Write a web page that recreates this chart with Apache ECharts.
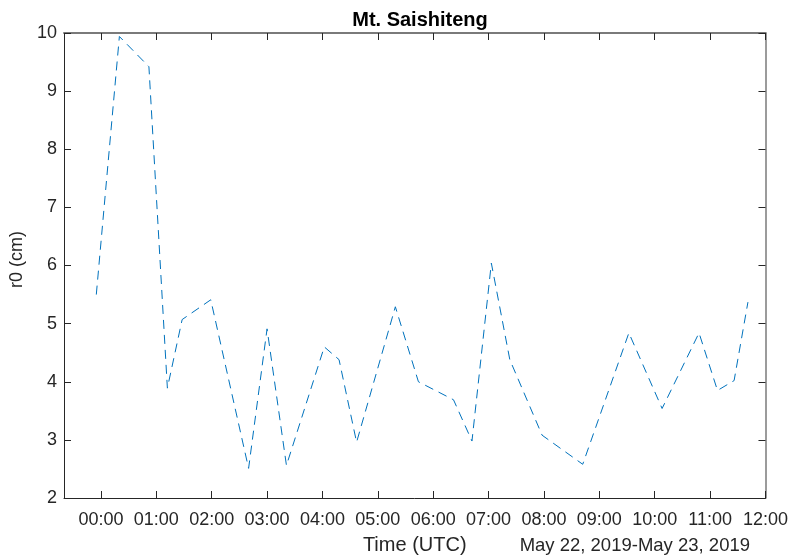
<!DOCTYPE html>
<html>
<head>
<meta charset="utf-8">
<script src="https://cdn.jsdelivr.net/npm/echarts@6/dist/echarts.min.js"></script>
<style>
html,body{margin:0;padding:0;background:#fff;}
#chart{width:791px;height:560px;}
</style>
</head>
<body>
<div id="chart"></div>
<script>
// Time in minutes after 00:00 UTC, May 22 2019
const timeMinutes = [-5, 20, 52, 72, 88, 119, 160, 180, 201, 242, 258, 277, 319, 344, 382, 402, 423, 443, 478, 522, 572, 608, 648, 668, 686, 701];
const r0Values = [5.50, 9.94, 9.42, 3.89, 5.07, 5.41, 2.51, 4.91, 2.56, 4.60, 4.38, 2.96, 5.29, 4.00, 3.69, 2.98, 6.04, 4.38, 3.08, 2.58, 4.84, 3.54, 4.84, 3.85, 4.02, 5.37];
const xTickMinutes = [0, 60, 120, 180, 240, 300, 360, 420, 480, 540, 600, 660, 720];
const xTickLabels = ["00:00","01:00","02:00","03:00","04:00","05:00","06:00","07:00","08:00","09:00","10:00","11:00","12:00"];
const yTicks = [2, 3, 4, 5, 6, 7, 8, 9, 10];

const titleText = "Mt. Saishiteng";
const xName = "Time (UTC)";
const yName = "r0 (cm)";
const dateText = "May 22, 2019-May 23, 2019";

const FONT = "'Liberation Sans', Arial, Helvetica, sans-serif";
const AX = '#262626';
const BOX = '#7a7a7a';

const chart = echarts.init(document.getElementById('chart'), null, {renderer: 'canvas'});
const labelMap = {};
xTickMinutes.forEach((m, i) => { labelMap[m] = xTickLabels[i]; });

const option = {
  animation: false,
  backgroundColor: '#ffffff',
  title: {
    text: titleText,
    left: 415,
    textAlign: 'center',
    top: 5,
    textStyle: {fontFamily: FONT, fontSize: 20, fontWeight: 'bold', color: '#000'}
  },
  grid: {left: 64, right: 24, top: 33, bottom: 62, containLabel: false},
  xAxis: [{
    type: 'value', min: -40, max: 720, position: 'bottom',
    splitLine: {show: false},
    axisLine: {show: true, onZero: false, lineStyle: {color: AX, width: 1}},
    axisTick: {show: true, inside: true, length: 7, customValues: xTickMinutes, lineStyle: {color: AX}},
    axisLabel: {show: true, customValues: xTickMinutes, formatter: v => labelMap[v] || '', margin: 13,
      fontFamily: FONT, fontSize: 18, color: AX},
    name: xName, nameLocation: 'middle', nameGap: 37,
    nameTextStyle: {fontFamily: FONT, fontSize: 20, color: AX}
  }, {
    type: 'value', min: -40, max: 720, position: 'top',
    splitLine: {show: false},
    axisLine: {show: true, onZero: false, lineStyle: {color: BOX, width: 2}},
    axisTick: {show: true, inside: true, length: 7, customValues: xTickMinutes, lineStyle: {color: AX}},
    axisLabel: {show: false}
  }],
  yAxis: [{
    type: 'value', min: 2, max: 10, interval: 1, position: 'left',
    splitLine: {show: false},
    axisLine: {show: true, onZero: false, lineStyle: {color: AX, width: 1}},
    axisTick: {show: true, inside: true, length: 7, lineStyle: {color: AX}},
    axisLabel: {show: true, margin: 7, fontFamily: FONT, fontSize: 18, color: AX},
    name: yName, nameLocation: 'middle', nameGap: 36, nameRotate: 90,
    nameTextStyle: {fontFamily: FONT, fontSize: 18, color: AX, padding: [0, 0, 0, 12]}
  }, {
    type: 'value', min: 2, max: 10, interval: 1, position: 'right',
    splitLine: {show: false},
    axisLine: {show: true, onZero: false, lineStyle: {color: BOX, width: 1.5}},
    axisTick: {show: true, inside: true, length: 7, lineStyle: {color: AX}},
    axisLabel: {show: false}
  }],
  graphic: [{
    type: 'text', right: 41, top: 536,
    style: {text: dateText, font: '18.5px ' + FONT, fill: AX, textAlign: 'right'}
  }],
  series: [{
    type: 'line',
    xAxisIndex: 0, yAxisIndex: 0,
    data: timeMinutes.map((t, i) => [t, r0Values[i]]),
    showSymbol: false,
    symbol: 'none',
    lineStyle: {color: '#0072BD', width: 1, type: [9, 6]}
  }]
};
chart.setOption(option);
</script>
</body>
</html>
